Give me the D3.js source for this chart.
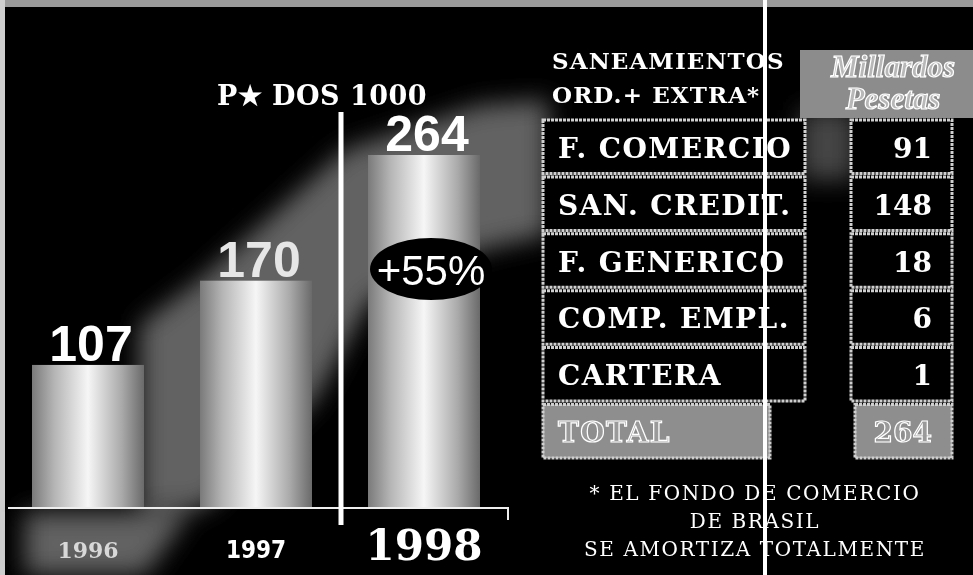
<!DOCTYPE html>
<html>
<head>
<meta charset="utf-8">
<script src="https://cdn.jsdelivr.net/npm/d3@7"></script>
<style>
  body { margin: 0; background: #000; }
  svg { display: block; }
</style>
</head>
<body>
<div id="chart"></div>
<script>
// chart data
const years = ["1996", "1997", "1998"];
const totals = [107, 170, 264];
const growthLabel = "+55%";
const chartTitle = "P\u2605 DOS 1000";

const tableHeader = ["SANEAMIENTOS", "ORD.+ EXTRA*"];
const unitLabel = ["Millardos", "Pesetas"];
const items = ["F. COMERCIO", "SAN. CREDIT.", "F. GENERICO", "COMP. EMPL.", "CARTERA"];
const itemValues = [91, 148, 18, 6, 1];
const totalLabel = "TOTAL";
const footnote = ["* EL FONDO DE COMERCIO", "DE BRASIL", "SE AMORTIZA TOTALMENTE"];

const width = 973, height = 575;
const serif = "'DejaVu Serif', serif";
const sans = "'Liberation Sans', Arial, sans-serif";

let svg = d3.select("#chart").append("svg")
    .attr("width", width)
    .attr("height", height);

let defs = svg.append("defs");
// cylinder shading for the bars
let grad = defs.append("linearGradient").attr("id", "barGrad");
[[0, "#7a7a7a"], [0.2, "#b5b5b5"], [0.5, "#f6f6f6"], [0.8, "#aaaaaa"], [1, "#6a6a6a"]]
    .forEach(s => grad.append("stop").attr("offset", s[0]).attr("stop-color", s[1]));
defs.append("filter").attr("id", "soft")
    .attr("x", "-30%").attr("y", "-30%").attr("width", "160%").attr("height", "160%")
    .append("feGaussianBlur").attr("stdDeviation", 12);

svg.append("rect").attr("width", width).attr("height", height).attr("fill", "#000");
// scan edges
svg.append("rect").attr("width", width).attr("height", 7).attr("fill", "#9a9a9a");
svg.append("rect").attr("width", 5).attr("height", height).attr("fill", "#cfcfcf");

// scales
let x = d3.scaleBand()
    .domain(years)
    .range([32, 480])
    .paddingInner(1 / 3);
let y = d3.scaleLinear()
    .domain([0, d3.max(totals)])
    .range([508, 155]);

// grey light ramp behind the bars
let glow = svg.append("g").attr("filter", "url(#soft)").attr("fill", "#626262");
glow.append("path")
    .attr("d", d3.line()([[140, 508], [205, 508], [315, 400], [370, 300], [480, 250], [548, 235],
        [548, 100], [480, 105], [345, 150], [200, 280], [140, 325]]));
glow.append("path")
    .attr("d", d3.line()([[25, 512], [190, 512], [145, 575], [25, 575]]));
glow.append("path")
    .attr("d", d3.line()([[800, 110], [855, 110], [855, 180], [800, 180]]))
    .attr("opacity", 0.7);

// bars
let bars = svg.append("g").selectAll("rect").data(years);
bars.enter()
    .append("rect")
    .merge(bars)
    .attr("x", d => x(d))
    .attr("y", (d, i) => y(totals[i]))
    .attr("width", x.bandwidth())
    .attr("height", (d, i) => y(0) - y(totals[i]))
    .attr("fill", "url(#barGrad)");

// value labels
svg.append("g").selectAll("text").data(years)
    .enter()
    .append("text")
    .attr("x", d => x(d) + x.bandwidth() / 2 + 3)
    .attr("y", (d, i) => y(totals[i]) - 4)
    .attr("text-anchor", "middle")
    .attr("font-family", sans)
    .attr("font-weight", "bold")
    .attr("font-size", 50)
    .attr("fill", (d, i) => i == 1 ? "#e6e6e6" : "#fff")
    .text((d, i) => totals[i]);

// growth ellipse
let cx98 = x("1998") + x.bandwidth() / 2;
svg.append("ellipse")
    .attr("cx", cx98 + 7).attr("cy", 269)
    .attr("rx", 61).attr("ry", 31)
    .attr("fill", "#000");
svg.append("text")
    .attr("x", cx98 + 7).attr("y", 285)
    .attr("text-anchor", "middle")
    .attr("font-family", sans)
    .attr("font-size", 42)
    .attr("fill", "#fff")
    .text(growthLabel);

// baseline with end tick
svg.append("path")
    .attr("d", `M8,${y(0)}H${x.range()[1] + 28}V${y(0) + 12}`)
    .attr("fill", "none")
    .attr("stroke", "#eee")
    .attr("stroke-width", 2);

// year axis
let yearAxis = svg.append("g")
    .attr("transform", `translate(0, ${y(0)})`)
    .call(d3.axisBottom(x).tickSize(0));
yearAxis.select(".domain").remove();
const yearStyle = [
    { font: serif, size: 22, weight: "bold", fill: "#d8d8d8", dy: 50 },
    { font: "'DejaVu Sans Condensed', 'DejaVu Sans', sans-serif", size: 24, weight: "bold", fill: "#fff", dy: 50 },
    { font: serif, size: 42, weight: "bold", fill: "#fff", dy: 52 }
];
yearAxis.selectAll(".tick text")
    .attr("y", 0)
    .attr("dy", (d, i) => yearStyle[i].dy)
    .attr("font-family", (d, i) => yearStyle[i].font)
    .attr("font-size", (d, i) => yearStyle[i].size)
    .attr("font-weight", (d, i) => yearStyle[i].weight)
    .attr("fill", (d, i) => yearStyle[i].fill);

// divider between 1997 and 1998
svg.append("line")
    .attr("x1", 341).attr("x2", 341)
    .attr("y1", 112).attr("y2", 525)
    .attr("stroke", "#fff").attr("stroke-width", 5);

// title
svg.append("text")
    .attr("x", 322).attr("y", 105)
    .attr("text-anchor", "middle")
    .attr("font-family", serif)
    .attr("font-weight", "bold")
    .attr("font-size", 27)
    .attr("letter-spacing", 0.5)
    .attr("fill", "#fff")
    .text(chartTitle);

// ---- table ----
svg.append("g").selectAll("text").data(tableHeader)
    .enter()
    .append("text")
    .attr("x", 552)
    .attr("y", (d, i) => 69 + i * 34)
    .attr("font-family", serif)
    .attr("font-weight", "bold")
    .attr("font-size", 23)
    .attr("letter-spacing", 1.1)
    .attr("fill", "#fff")
    .text(d => d);

svg.append("rect")
    .attr("x", 800).attr("y", 50)
    .attr("width", 173).attr("height", 68)
    .attr("fill", "#8c8c8c");
svg.append("g").selectAll("text").data(unitLabel)
    .enter()
    .append("text")
    .attr("x", 893)
    .attr("y", (d, i) => 77 + i * 32)
    .attr("text-anchor", "middle")
    .attr("font-family", "'Liberation Serif', serif")
    .attr("font-style", "italic")
    .attr("font-weight", "bold")
    .attr("font-size", 31)
    .attr("fill", "#b8b8b8")
    .attr("stroke", "#fff")
    .attr("stroke-width", 1.2)
    .text(d => d);

let rows = items.concat([totalLabel]);
let rowValues = itemValues.concat([d3.sum(itemValues)]);
let r = d3.scaleBand()
    .domain(rows)
    .range([120, 458])
    .paddingInner(0.06);

let row = svg.append("g").selectAll("g").data(rows)
    .enter()
    .append("g")
    .attr("transform", d => `translate(0, ${r(d)})`);

row.append("rect")
    .attr("x", 543)
    .attr("width", d => d == totalLabel ? 227 : 262)
    .attr("height", r.bandwidth())
    .attr("fill", d => d == totalLabel ? "#8e8e8e" : "#000")
    .attr("stroke", "#cfcfcf")
    .attr("stroke-width", 3)
    .attr("stroke-dasharray", "3 1");
row.append("rect")
    .attr("x", d => d == totalLabel ? 855 : 851)
    .attr("width", d => d == totalLabel ? 97 : 101)
    .attr("height", r.bandwidth())
    .attr("fill", d => d == totalLabel ? "#8e8e8e" : "#000")
    .attr("stroke", "#cfcfcf")
    .attr("stroke-width", 3)
    .attr("stroke-dasharray", "3 1");

row.append("text")
    .attr("x", 558)
    .attr("y", r.bandwidth() / 2 + 11)
    .attr("font-family", serif)
    .attr("font-weight", "bold")
    .attr("font-size", 28)
    .attr("letter-spacing", 1.4)
    .attr("fill", d => d == totalLabel ? "#9a9a9a" : "#fff")
    .attr("stroke", d => d == totalLabel ? "#fff" : "none")
    .attr("stroke-width", 1.2)
    .text(d => d);
row.append("text")
    .attr("x", 932)
    .attr("y", r.bandwidth() / 2 + 11)
    .attr("text-anchor", "end")
    .attr("font-family", serif)
    .attr("font-weight", "bold")
    .attr("font-size", 28)
    .attr("fill", d => d == totalLabel ? "#9a9a9a" : "#fff")
    .attr("stroke", d => d == totalLabel ? "#fff" : "none")
    .attr("stroke-width", 1.2)
    .text((d, i) => rowValues[i]);

// footnote
svg.append("g").selectAll("text").data(footnote)
    .enter()
    .append("text")
    .attr("x", 755)
    .attr("y", (d, i) => 500 + i * 28)
    .attr("text-anchor", "middle")
    .attr("font-family", serif)
    .attr("font-size", 20)
    .attr("letter-spacing", 1.6)
    .attr("fill", "#fff")
    .text(d => d);

// fold line of the scan
svg.append("line")
    .attr("x1", 765).attr("x2", 765)
    .attr("y1", 0).attr("y2", height)
    .attr("stroke", "#fff").attr("stroke-width", 4);
</script>
</body>
</html>
